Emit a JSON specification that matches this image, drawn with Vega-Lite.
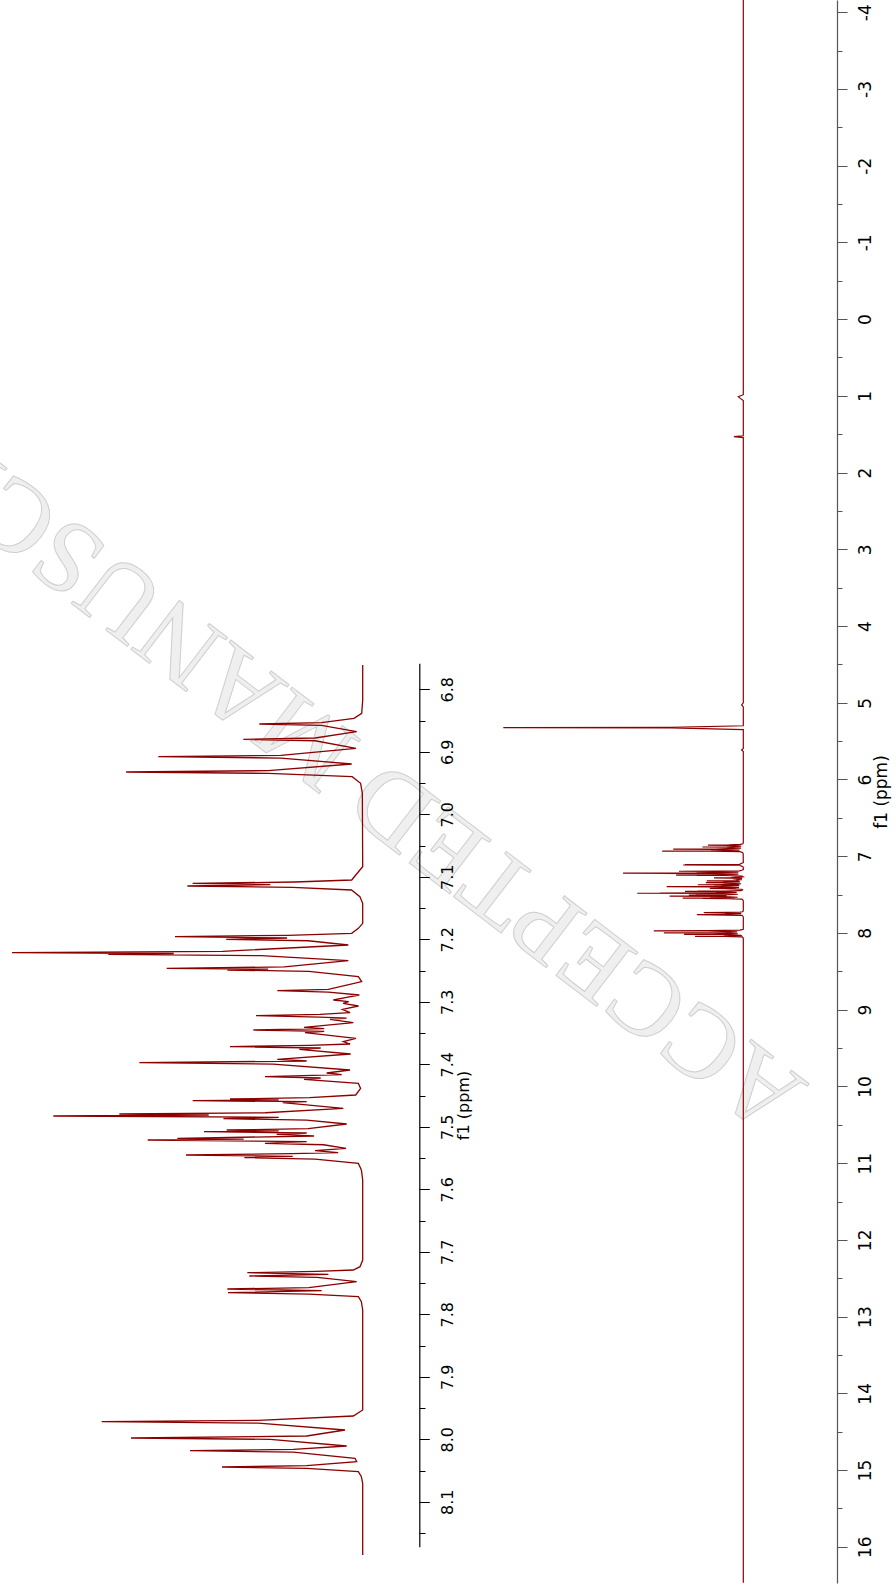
{
 "$schema": "https://vega.github.io/schema/vega-lite/v6.json",
 "autosize": {"type": "none"},
 "width": 837,
 "height": 1583,
 "padding": {"left": 0, "top": 0, "right": 59, "bottom": 9},
 "background": "white",
 "config": {"view": {"stroke": null}, "axis": {"grid": false, "labelFont": "DejaVu Sans", "titleFont": "DejaVu Sans", "labelColor": "black", "titleColor": "black", "titleFontWeight": "normal"}},
 "datasets": {
  "watermark": [{"label": "ACCEPTED MANUSCRIPT", "ppm": 5.4, "I": 184}],
  "spectrum": [
   {"ppm": -4.16, "I": 0}, {"ppm": 0.985, "I": 0}, {"ppm": 1.01, "I": 2.1}, {"ppm": 1.03, "I": 1.4}, {"ppm": 1.06, "I": 0},
   {"ppm": 1.52, "I": 0}, {"ppm": 1.532, "I": 3.9}, {"ppm": 1.545, "I": 0},
   {"ppm": 5.0, "I": 0}, {"ppm": 5.029, "I": 0.7}, {"ppm": 5.055, "I": 0},
   {"ppm": 5.3, "I": 0}, {"ppm": 5.322, "I": 30}, {"ppm": 5.325, "I": 100}, {"ppm": 5.328, "I": 30}, {"ppm": 5.35, "I": 0},
   {"ppm": 5.595, "I": 0}, {"ppm": 5.615, "I": 0.7}, {"ppm": 5.635, "I": 0},
   {"ppm": 6.761, "I": 0}, {"ppm": 6.817, "I": 0}, {"ppm": 6.8385, "I": 0.14}, {"ppm": 6.8465, "I": 1.24},
   {"ppm": 6.8533, "I": 5.9}, {"ppm": 6.8555, "I": 14.77}, {"ppm": 6.8577, "I": 5.9}, {"ppm": 6.8678, "I": 0.86},
   {"ppm": 6.8779, "I": 6.8}, {"ppm": 6.8801, "I": 17.05}, {"ppm": 6.8823, "I": 6.8}, {"ppm": 6.8945, "I": 0.96},
   {"ppm": 6.9056, "I": 11.7}, {"ppm": 6.9078, "I": 29.2}, {"ppm": 6.91, "I": 11.7}, {"ppm": 6.9195, "I": 1.57},
   {"ppm": 6.9301, "I": 13.5}, {"ppm": 6.9323, "I": 33.8}, {"ppm": 6.9345, "I": 13.5}, {"ppm": 6.9398, "I": 1.5},
   {"ppm": 6.9505, "I": 0.3}, {"ppm": 6.9665, "I": 0.05}, {"ppm": 7.0838, "I": 0}, {"ppm": 7.0891, "I": 0.4},
   {"ppm": 7.1051, "I": 1.57}, {"ppm": 7.1083, "I": 9.7}, {"ppm": 7.1105, "I": 24.3}, {"ppm": 7.1126, "I": 13.2},
   {"ppm": 7.1147, "I": 25.05}, {"ppm": 7.1169, "I": 10}, {"ppm": 7.1211, "I": 1.6}, {"ppm": 7.1318, "I": 0.4},
   {"ppm": 7.1425, "I": 0}, {"ppm": 7.1745, "I": 0}, {"ppm": 7.1825, "I": 0.62}, {"ppm": 7.1905, "I": 1.57},
   {"ppm": 7.1936, "I": 10.7}, {"ppm": 7.1958, "I": 26.81}, {"ppm": 7.1979, "I": 10.8}, {"ppm": 7.2001, "I": 19.5},
   {"ppm": 7.2023, "I": 7.8}, {"ppm": 7.2091, "I": 2.05}, {"ppm": 7.2192, "I": 20}, {"ppm": 7.2214, "I": 50.1},
   {"ppm": 7.2227, "I": 27}, {"ppm": 7.224, "I": 36.34}, {"ppm": 7.2262, "I": 14.5}, {"ppm": 7.2342, "I": 2.05},
   {"ppm": 7.2442, "I": 11.2}, {"ppm": 7.2464, "I": 28}, {"ppm": 7.2478, "I": 13.5}, {"ppm": 7.2491, "I": 19.34},
   {"ppm": 7.2513, "I": 7.7}, {"ppm": 7.2598, "I": 0.62}, {"ppm": 7.2678, "I": 0.15}, {"ppm": 7.28, "I": 4.9},
   {"ppm": 7.2822, "I": 12.2}, {"ppm": 7.2844, "I": 4.9}, {"ppm": 7.2891, "I": 0.48}, {"ppm": 7.2929, "I": 2.3},
   {"ppm": 7.2971, "I": 4.19}, {"ppm": 7.2998, "I": 2}, {"ppm": 7.3025, "I": 2.8}, {"ppm": 7.3067, "I": 0.6},
   {"ppm": 7.3121, "I": 2.9}, {"ppm": 7.3174, "I": 1.8}, {"ppm": 7.32, "I": 6.1}, {"ppm": 7.3222, "I": 15.24},
   {"ppm": 7.3244, "I": 6.1}, {"ppm": 7.326, "I": 2.3}, {"ppm": 7.3281, "I": 4.67}, {"ppm": 7.3334, "I": 1.34},
   {"ppm": 7.3409, "I": 8.38}, {"ppm": 7.343, "I": 5.5}, {"ppm": 7.3451, "I": 15.62}, {"ppm": 7.3473, "I": 5.5},
   {"ppm": 7.3494, "I": 8.24}, {"ppm": 7.3585, "I": 0.96}, {"ppm": 7.3638, "I": 2.77}, {"ppm": 7.3675, "I": 1.8},
   {"ppm": 7.3696, "I": 7.6}, {"ppm": 7.3718, "I": 18.96}, {"ppm": 7.3739, "I": 6}, {"ppm": 7.3761, "I": 9.05},
   {"ppm": 7.3835, "I": 1.72}, {"ppm": 7.392, "I": 12.2}, {"ppm": 7.3947, "I": 8}, {"ppm": 7.3974, "I": 31.91},
   {"ppm": 7.3996, "I": 12.8}, {"ppm": 7.4091, "I": 1.81}, {"ppm": 7.4139, "I": 5.15}, {"ppm": 7.4166, "I": 3},
   {"ppm": 7.4198, "I": 13.96}, {"ppm": 7.4219, "I": 6}, {"ppm": 7.4241, "I": 8.38}, {"ppm": 7.4305, "I": 0.62},
   {"ppm": 7.4385, "I": 0.3}, {"ppm": 7.4491, "I": 1}, {"ppm": 7.4533, "I": 7.6}, {"ppm": 7.4555, "I": 18.96},
   {"ppm": 7.4568, "I": 12}, {"ppm": 7.4582, "I": 24.29}, {"ppm": 7.4598, "I": 8}, {"ppm": 7.4614, "I": 11.43},
   {"ppm": 7.4704, "I": 2.77}, {"ppm": 7.4775, "I": 13.9}, {"ppm": 7.4795, "I": 34.77}, {"ppm": 7.4811, "I": 22},
   {"ppm": 7.4827, "I": 44.2}, {"ppm": 7.4848, "I": 12}, {"ppm": 7.487, "I": 19.9}, {"ppm": 7.4892, "I": 8},
   {"ppm": 7.4955, "I": 2.29}, {"ppm": 7.503, "I": 7.8}, {"ppm": 7.5051, "I": 19.43}, {"ppm": 7.5065, "I": 12},
   {"ppm": 7.5078, "I": 22.67}, {"ppm": 7.5099, "I": 8}, {"ppm": 7.5121, "I": 12.29}, {"ppm": 7.5147, "I": 6.95},
   {"ppm": 7.5185, "I": 26.48}, {"ppm": 7.5198, "I": 17}, {"ppm": 7.5211, "I": 30.72}, {"ppm": 7.5238, "I": 8},
   {"ppm": 7.5265, "I": 13.96}, {"ppm": 7.5287, "I": 5.6}, {"ppm": 7.5345, "I": 2.38}, {"ppm": 7.5382, "I": 6.81},
   {"ppm": 7.5414, "I": 3.5}, {"ppm": 7.543, "I": 10.1}, {"ppm": 7.5451, "I": 25.24}, {"ppm": 7.5473, "I": 10},
   {"ppm": 7.5494, "I": 16.91}, {"ppm": 7.5516, "I": 6.8}, {"ppm": 7.5585, "I": 0.62}, {"ppm": 7.5691, "I": 0.19},
   {"ppm": 7.5851, "I": 0}, {"ppm": 7.7131, "I": 0}, {"ppm": 7.7238, "I": 0.38}, {"ppm": 7.7291, "I": 1.34},
   {"ppm": 7.7313, "I": 6.6}, {"ppm": 7.7334, "I": 16.48}, {"ppm": 7.7361, "I": 4.9}, {"ppm": 7.7387, "I": 16.2},
   {"ppm": 7.7409, "I": 6.5}, {"ppm": 7.7478, "I": 0.86}, {"ppm": 7.7573, "I": 7.7}, {"ppm": 7.7595, "I": 19.34},
   {"ppm": 7.7622, "I": 5.86}, {"ppm": 7.7654, "I": 19.24}, {"ppm": 7.7676, "I": 7.7}, {"ppm": 7.7718, "I": 0.62},
   {"ppm": 7.7798, "I": 0.19}, {"ppm": 7.7931, "I": 0}, {"ppm": 7.9531, "I": 0}, {"ppm": 7.9627, "I": 1.34},
   {"ppm": 7.9696, "I": 14.9}, {"ppm": 7.9718, "I": 37.29}, {"ppm": 7.974, "I": 14.9}, {"ppm": 7.9851, "I": 2.53},
   {"ppm": 7.9947, "I": 8}, {"ppm": 7.9979, "I": 33.1}, {"ppm": 8.0001, "I": 13.2}, {"ppm": 8.0107, "I": 2.29},
   {"ppm": 8.016, "I": 9.9}, {"ppm": 8.0182, "I": 24.67}, {"ppm": 8.0204, "I": 9.9}, {"ppm": 8.0304, "I": 1.1},
   {"ppm": 8.0358, "I": 0.86}, {"ppm": 8.0421, "I": 8}, {"ppm": 8.0443, "I": 20.1}, {"ppm": 8.0465, "I": 8},
   {"ppm": 8.0518, "I": 0.62}, {"ppm": 8.0598, "I": 0.19}, {"ppm": 8.0705, "I": 0}, {"ppm": 8.185, "I": 0},
   {"ppm": 16.47, "I": 0}
  ]
 },
 "layer": [
  {
   "data": {"name": "watermark"},
   "mark": {"type": "text", "font": "Liberation Serif", "fontSize": 104, "angle": 217.5, "align": "center", "baseline": "middle", "fill": "#efefef", "stroke": "#cfcfcf", "strokeWidth": 1},
   "encoding": {
    "x": {"field": "I", "type": "quantitative", "scale": {"domain": [0, 100], "range": [743.3, 503.3], "zero": false, "nice": false}, "axis": null},
    "y": {"field": "ppm", "type": "quantitative", "scale": {"domain": [-4.159, 16.472], "range": [0, 1583], "zero": false, "nice": false}, "axis": null},
    "text": {"field": "label"}
   }
  },
  {
   "data": {"name": "spectrum"},
   "mark": {"type": "line", "color": "#8b0000", "strokeWidth": 1.2},
   "encoding": {
    "x": {"field": "I", "type": "quantitative", "scale": {"domain": [0, 100], "range": [743.3, 503.3], "zero": false, "nice": false}, "axis": null},
    "y": {"field": "ppm", "type": "quantitative", "scale": {"domain": [-4.159, 16.472], "range": [0, 1583], "zero": false, "nice": false},
     "axis": {"orient": "right", "zindex": 1, "values": [-4, -3.5, -3, -2.5, -2, -1.5, -1, -0.5, 0, 0.5, 1, 1.5, 2, 2.5, 3, 3.5, 4, 4.5, 5, 5.5, 6, 6.5, 7, 7.5, 8, 8.5, 9, 9.5, 10, 10.5, 11, 11.5, 12, 12.5, 13, 13.5, 14, 14.5, 15, 15.5, 16],
      "labelExpr": "datum.value % 1 === 0 ? '' + datum.value : ''",
      "tickSize": {"condition": {"test": "datum.value % 1 === 0", "value": 10}, "value": 5},
      "labelAngle": 270, "labelAlign": "center", "labelBaseline": "top", "labelPadding": 10, "labelFontSize": 17,
      "labelOverlap": false, "labelFlush": false, "labelBound": false,
      "domainColor": "#555555", "tickColor": "#555555", "domainWidth": 1.2, "tickWidth": 1,
      "title": "f1 (ppm)", "titleAngle": 270, "titleFontSize": 17, "titlePadding": 0, "titleBaseline": "top"}},
    "order": {"field": "ppm", "type": "quantitative"}
   }
  },
  {
   "data": {"name": "spectrum"},
   "transform": [{"filter": "datum.ppm >= 6.76 && datum.ppm <= 8.186"}],
   "mark": {"type": "line", "color": "#8b0000", "strokeWidth": 1.3},
   "encoding": {
    "x": {"field": "I", "type": "quantitative", "scale": {"domain": [0, 100], "range": [362.7, -337.3], "zero": false, "nice": false}, "axis": null},
    "y": {"field": "ppm", "type": "quantitative", "scale": {"domain": [6.7584, 8.1718], "range": [663.3, 1546.7], "zero": false, "nice": false},
     "axis": {"orient": "right", "zindex": 1, "offset": -417.7, "values": [6.8, 6.85, 6.9, 6.95, 7, 7.05, 7.1, 7.15, 7.2, 7.25, 7.3, 7.35, 7.4, 7.45, 7.5, 7.55, 7.6, 7.65, 7.7, 7.75, 7.8, 7.85, 7.9, 7.95, 8, 8.05, 8.1, 8.15],
      "labelExpr": "abs(datum.value * 10 - round(datum.value * 10)) < 0.001 ? format(datum.value, '.1f') : ''",
      "tickSize": {"condition": {"test": "abs(datum.value * 10 - round(datum.value * 10)) < 0.001", "value": 10}, "value": 5.7},
      "labelAngle": 270, "labelAlign": "center", "labelBaseline": "top", "labelPadding": 10, "labelFontSize": 16,
      "labelOverlap": false, "labelFlush": false, "labelBound": false,
      "domainColor": "black", "tickColor": "black", "domainWidth": 1.2, "tickWidth": 1,
      "title": "f1 (ppm)", "titleAngle": 270, "titleFontSize": 16, "titlePadding": 0, "titleBaseline": "top"}},
    "order": {"field": "ppm", "type": "quantitative"}
   }
  }
 ],
 "resolve": {"scale": {"x": "independent", "y": "independent"}}
}
